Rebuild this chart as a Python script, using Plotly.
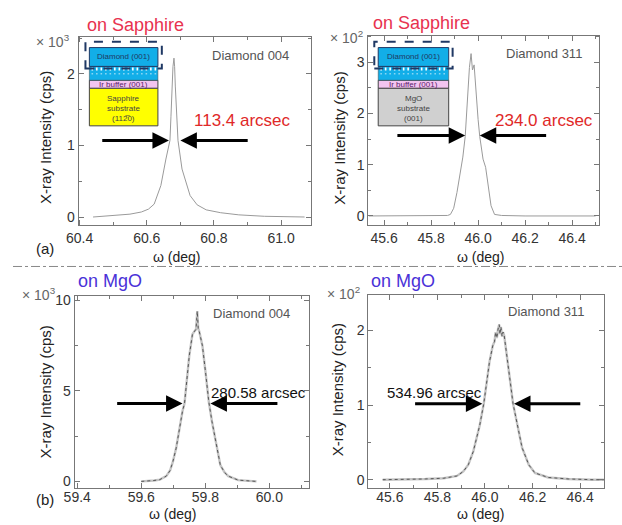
import plotly.graph_objects as go

W, H = 622, 525

# ---------------- data ----------------
# (a) Diamond 004 on sapphire, intensity in x10^3 cps
A_omega = [60.44, 60.50, 60.55, 60.584, 60.605, 60.622, 60.642, 60.657, 60.669, 60.672,
           60.675, 60.678, 60.681, 60.683, 60.685, 60.689, 60.693, 60.705, 60.719, 60.729,
           60.750, 60.777, 60.82, 60.874, 60.95, 61.07]
A_int = [0.00, 0.02, 0.04, 0.07, 0.11, 0.18, 0.44, 0.81, 1.07, 1.40,
         1.83, 2.10, 2.22, 2.10, 1.83, 1.45, 1.07, 0.67, 0.44, 0.30,
         0.17, 0.10, 0.06, 0.03, 0.01, 0.00]

# (a) Diamond 311 on sapphire, intensity in x10^2 cps
B_omega = [45.535, 45.60, 45.70, 45.80, 45.85, 45.87, 45.882, 45.896, 45.910, 45.924,
           45.935, 45.945, 45.956, 45.963, 45.970, 45.976, 45.983, 45.990, 46.000, 46.007,
           46.021, 46.032, 46.042, 46.055, 46.070, 46.10, 46.20, 46.30, 46.40, 46.50]
B_int = [0.00, 0.00, 0.00, 0.00, 0.00, 0.01, 0.03, 0.15, 0.46, 0.85,
         1.15, 1.55, 2.40, 2.90, 3.17, 2.85, 2.95, 2.45, 1.88, 1.55,
         1.11, 0.95, 0.60, 0.20, 0.03, 0.01, 0.00, 0.00, 0.00, 0.00]

# (b) Diamond 004 on MgO, intensity in x10^3 cps
C_omega = [59.60, 59.62, 59.64, 59.658, 59.678, 59.690, 59.699, 59.709, 59.719, 59.729,
           59.735, 59.740, 59.750, 59.760, 59.771, 59.775, 59.778, 59.781, 59.791, 59.801,
           59.811, 59.821, 59.830, 59.847, 59.860, 59.872, 59.903, 59.93, 59.96]
C_int = [0.00, 0.02, 0.05, 0.10, 0.29, 0.60, 1.11, 1.84, 2.94, 3.90,
         4.30, 5.30, 6.95, 8.14, 8.41, 9.41, 8.45, 8.30, 7.50, 6.00,
         4.40, 3.30, 2.40, 0.90, 0.50, 0.29, 0.07, 0.03, 0.00]

# (b) Diamond 311 on MgO, intensity in x10^2 cps
D_omega = [45.57, 45.65, 45.75, 45.827, 45.882, 45.909, 45.930, 45.951, 45.964, 45.978,
           45.995, 46.005, 46.019, 46.033, 46.040, 46.045, 46.050, 46.055, 46.060, 46.063,
           46.067, 46.072, 46.076, 46.081, 46.095, 46.108, 46.118, 46.136, 46.156, 46.184,
           46.21, 46.266, 46.35, 46.45, 46.50]
D_int = [0.00, 0.00, 0.01, 0.02, 0.05, 0.11, 0.20, 0.38, 0.54, 0.73,
         1.02, 1.27, 1.58, 1.80, 1.85, 1.98, 1.90, 2.02, 2.08, 1.95,
         2.05, 1.92, 1.98, 1.93, 1.62, 1.27, 1.02, 0.73, 0.43, 0.20,
         0.09, 0.03, 0.01, 0.00, 0.00]

# FWHM arrows (left start, left tip, right tip, right start, height)
A_fwhm = [60.463, 60.666, 60.700, 60.905, 1.07]
B_fwhm = [45.65, 45.945, 46.007, 46.296, 1.57]
C_fwhm = [59.52, 59.729, 59.816, 60.03, 4.3]
D_fwhm = [45.70, 45.989, 46.122, 46.407, 1.02]

A_xticks = [60.4, 60.6, 60.8, 61.0]
B_xticks = [45.6, 45.8, 46.0, 46.2, 46.4]
C_xticks = [59.4, 59.6, 59.8, 60.0]
D_xticks = [45.6, 45.8, 46.0, 46.2, 46.4]
A_yticks = [0, 1, 2]
B_yticks = [0, 1, 2, 3]
C_yticks = [0, 5, 10]
D_yticks = [0, 1, 2]

FONT = "Liberation Sans, Arial, sans-serif"


def px(x):
    return x / W


def py(y):
    return 1 - y / H


fig = go.Figure()

# panel geometry in pixels (left, right, top, bottom) and axis ranges
panels = [
    dict(n="", box=(67, 304, 33, 223), xr=[60.397, 61.088], yr=[-0.11, 2.52],
         xt=A_xticks, yt=A_yticks, xm=0.1, ym=0.5, so=0),
    dict(n="2", box=(363, 598, 32, 223), xr=[45.533, 46.5125], yr=[-0.174, 3.52],
         xt=B_xticks, yt=B_yticks, xm=0.1, ym=0.5, so=0),
    dict(n="3", box=(63, 302, 295, 489), xr=[59.392, 60.123], yr=[-0.383, 10.235],
         xt=C_xticks, yt=C_yticks, xm=0.1, ym=2.5, so=-4),
    dict(n="4", box=(363, 604, 294, 489), xr=[45.510, 46.502], yr=[-0.116, 2.474],
         xt=D_xticks, yt=D_yticks, xm=0.1, ym=0.5, so=-4),
]

axis_common = dict(showgrid=False, zeroline=False, showline=True, linecolor="#777",
                   linewidth=1, mirror="allticks", ticks="inside", ticklen=5,
                   tickcolor="#777", tickfont=dict(family=FONT, size=14, color="#333"))

for p in panels:
    l, r, t, b = p["box"]
    xa = dict(axis_common, domain=[px(l), px(r)], range=p["xr"], tickvals=p["xt"],
              ticktext=["%.1f" % v for v in p["xt"]], ticklabelstandoff=p["so"],
              minor=dict(dtick=p["xm"], tick0=p["xt"][0], ticks="inside", ticklen=3,
                         tickcolor="#777"),
              anchor="y" + p["n"])
    ya = dict(axis_common, domain=[py(b), py(t)], range=p["yr"], tickvals=p["yt"],
              ticktext=[str(v) for v in p["yt"]],
              minor=dict(dtick=p["ym"], tick0=0, ticks="inside", ticklen=3,
                         tickcolor="#777"),
              anchor="x" + p["n"])
    fig.update_layout(**{"xaxis" + p["n"]: xa, "yaxis" + p["n"]: ya})

# curves
fig.add_trace(go.Scatter(x=A_omega, y=A_int, mode="lines", xaxis="x", yaxis="y",
                         line=dict(color="#9a9a9a", width=1), showlegend=False))
fig.add_trace(go.Scatter(x=B_omega, y=B_int, mode="lines", xaxis="x2", yaxis="y2",
                         line=dict(color="#9a9a9a", width=1), showlegend=False))
for xs, ys, ax in [(C_omega, C_int, "3"), (D_omega, D_int, "4")]:
    fig.add_trace(go.Scatter(x=xs, y=ys, mode="lines", xaxis="x" + ax, yaxis="y" + ax,
                             line=dict(color="#c4c4c4", width=2.4), showlegend=False))
    fig.add_trace(go.Scatter(x=xs, y=ys, mode="lines", xaxis="x" + ax, yaxis="y" + ax,
                             line=dict(color="#555555", width=1, dash="dot"),
                             showlegend=False))

ann = []
shapes = []

# FWHM arrows
for f, n in [(A_fwhm, ""), (B_fwhm, "2"), (C_fwhm, "3"), (D_fwhm, "4")]:
    x0, xt1, xt2, x1, yv = f
    for start, tip in [(x0, xt1), (x1, xt2)]:
        ann.append(dict(x=tip, y=yv, ax=start, ay=yv, xref="x" + n, yref="y" + n,
                        axref="x" + n, ayref="y" + n, text="", showarrow=True,
                        arrowhead=2, arrowsize=1.1, arrowwidth=3, arrowcolor="black"))


def text(x, y, s, size, color="#333", angle=0, anchor="center"):
    ann.append(dict(x=px(x), y=py(y), xref="paper", yref="paper", text=s,
                    showarrow=False, textangle=angle, xanchor=anchor, yanchor="middle",
                    font=dict(family=FONT, size=size, color=color)))


RED = "#e8324f"
BLUE = "#4a32d8"
text(125, 21, "on Sapphire", 18, RED)
text(417, 19, "on Sapphire", 18, RED)
text(99, 280, "on MgO", 18, BLUE)
text(398, 280, "on MgO", 18, BLUE)
text(234, 118, "113.4 arcsec", 17, "#e02828")
text(542, 118, "234.0 arcsec", 17, "#e02828")
text(251, 392, "280.58 arcsec", 15, "#111")
text(430, 392, "534.96 arcsec", 15, "#111")
text(243, 52, "Diamond 004", 13, "#555")
text(542, 50, "Diamond 311", 13, "#555")
text(244, 312, "Diamond 004", 13, "#555")
text(544, 310, "Diamond 311", 13, "#555")
text(41, 37, "× 10<sup>3</sup>", 14, "#666")
text(341, 33, "× 10<sup>2</sup>", 14, "#666")
text(27, 293, "× 10<sup>3</sup>", 14, "#666")
text(338, 292, "× 10<sup>2</sup>", 14, "#666")
for x, y in [(33, 135), (334, 136), (33, 392), (331, 390)]:
    text(x, y, "X-ray Intensity (cps)", 15, "#222", angle=-90)
for x, y in [(168, 255), (478, 255), (163, 515), (478, 515)]:
    text(x, y, "ω (deg)", 14, "#222")
text(33, 247, "(a)", 15, "#222")
text(33, 500, "(b)", 15, "#222")


def rect(x0, y0, x1, y1, fill, line="#333", lw=1, dash="solid"):
    shapes.append(dict(type="rect", xref="paper", yref="paper", x0=px(x0), x1=px(x1),
                       y0=py(y1), y1=py(y0), fillcolor=fill,
                       line=dict(color=line, width=lw, dash=dash), layer="above"))


def inset(x0, x1, sub_fill, sub_lines, sub_color):
    rect(x0, 85, x1, 123, sub_fill, "#444", 1)
    rect(x0, 77, x1, 85, "#f3c4f0", "#444", 1)
    rect(x0, 63, x1, 77, "#12aee8", "#444", 0.5)
    xx = x0 + 3
    while xx < x1 - 1:
        shapes.append(dict(type="line", xref="paper", yref="paper", x0=px(xx), x1=px(xx),
                           y0=py(64), y1=py(71), line=dict(color="white", width=1.6,
                                                           dash="dot"), layer="above"))
        xx += 4.6
    rect(x0, 44, x1, 63, "#12aee8", "#1f3864", 1)
    rect(x0 - 4, 38, x1 + 4, 65, "rgba(0,0,0,0)", "#1f3864", 2, "dash")
    cx = (x0 + x1) / 2
    text(cx, 53.5, "Diamond (001)", 8, "#1f3864")
    text(cx, 81, "Ir buffer (001)", 8, "#5a1a6a")
    for i, s in enumerate(sub_lines):
        text(cx, 95 + 10.5 * i, s, 8, sub_color)


inset(78, 148, "#ffff00", ["Sapphire", "substrate", "(112\u03050)"], "#444")
inset(373, 445, "#d0d0d0", ["MgO", "substrate", "(001)"], "#444")

# separator
shapes.append(dict(type="line", xref="paper", yref="paper", x0=0, x1=1, y0=py(265),
                   y1=py(265), line=dict(color="#888", width=1, dash="dashdot")))

fig.update_layout(width=W, height=H, margin=dict(l=0, r=0, t=0, b=0),
                  paper_bgcolor="white", plot_bgcolor="white",
                  annotations=ann, shapes=shapes, showlegend=False,
                  font=dict(family=FONT))

fig.write_html("out.html", config={"displayModeBar": False},
               post_script="document.body.style.margin='0px';"
                           "document.body.style.overflow='hidden';")
